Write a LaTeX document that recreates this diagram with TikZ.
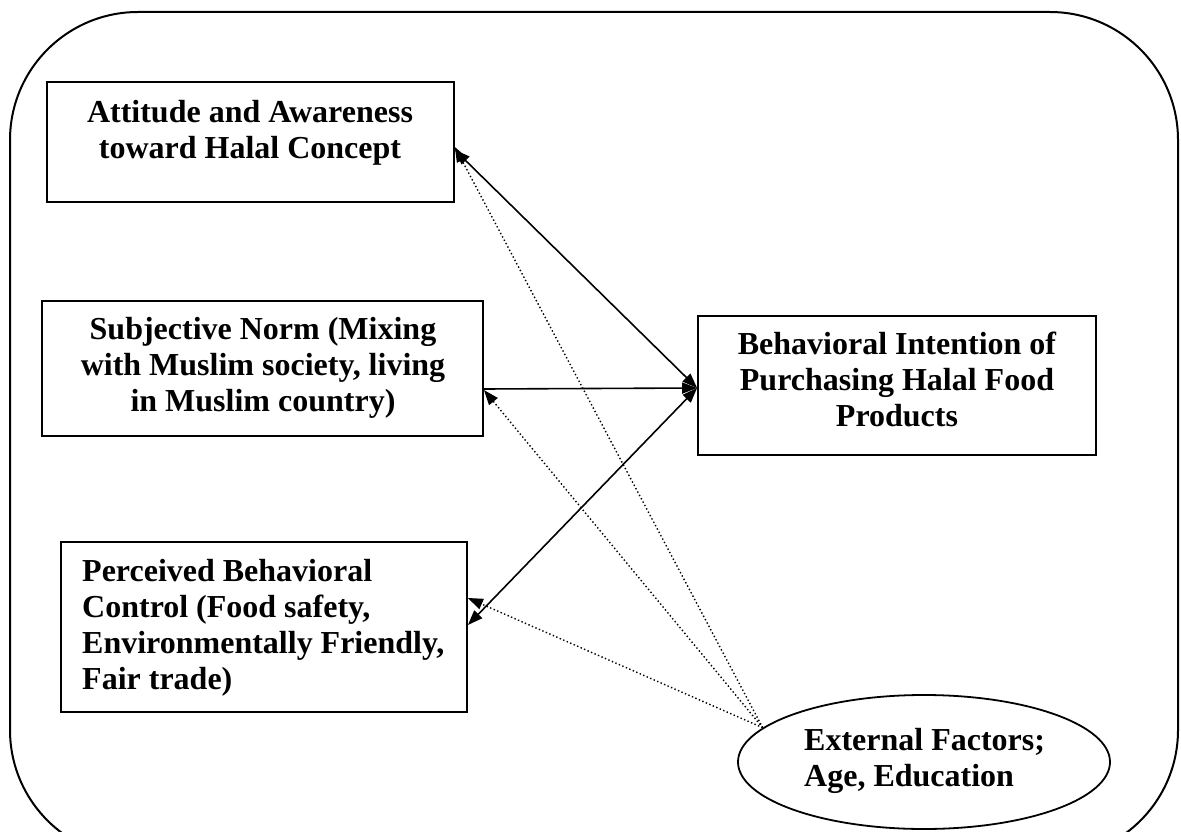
\documentclass[tikz,border=0pt]{standalone}
\usepackage{fontspec}
\setmainfont{Liberation Serif}
\usetikzlibrary{arrows.meta,shapes.geometric}
\begin{document}
\begin{tikzpicture}[x=1pt,y=-1pt,
  box/.style={draw, line width=1.8pt, rectangle, inner sep=0pt},
  lbl/.style={inner sep=0pt, font=\fontsize{32}{36}\selectfont\bfseries},
  head/.tip={Triangle[length=15pt,width=11pt]},
  link/.style={line width=1.6pt},
  hint/.style={line width=1.4pt, dash pattern=on 1.4pt off 2.4pt, -head}
]
\useasboundingbox (0,0) rectangle (1181,832);

% frame around the whole model
\draw[line width=2pt, rounded corners=128pt] (10,12) rectangle (1178,858);

% constructs
\node[box, minimum width=407pt, minimum height=120pt] (att) at (250.5,142) {};
\node[box, minimum width=441pt, minimum height=135pt] (sn)  at (262.5,368.5) {};
\node[box, minimum width=406pt, minimum height=170pt] (pbc) at (264,627) {};
\node[box, minimum width=398pt, minimum height=139pt] (bi)  at (897,385.5) {};
\node[draw, ellipse, line width=1.8pt, minimum width=372pt, minimum height=134pt, inner sep=0pt] (ext) at (924,762) {};

% labels
\node[lbl, align=center] (attT) at (250,133) {Attitude and Awareness\\toward Halal Concept};
\node[lbl, align=center] (snT) at (263,367.5) {Subjective Norm (Mixing\\with Muslim society, living\\in Muslim country)};
\node[lbl, align=left, anchor=west] (pbcT) at (82,628) {Perceived Behavioral\\Control (Food safety,\\Environmentally Friendly,\\Fair trade)};
\node[lbl, align=center] (biT) at (897,379) {Behavioral Intention of\\Purchasing Halal Food\\Products};
\node[lbl, align=left, anchor=west] (extT) at (804,761) {External Factors;\\Age, Education};

% direct effects on intention
\draw[link, head-head] ([yshift=-8pt]att.east) -- ([yshift=-2.5pt]bi.west);
\draw[link, -head] ([yshift=-20.5pt]sn.east) -- ([yshift=-2.5pt]bi.west);
\draw[link, head-head] ([yshift=2pt]pbc.east) -- ([yshift=-2.5pt]bi.west);

% moderating external factors
\draw[hint] (ext.168) -- ([yshift=-5pt]att.east);
\draw[hint] (ext.168) -- ([yshift=-21.5pt]sn.east);
\draw[hint] (ext.168) -- ([yshift=29pt]pbc.east);
\end{tikzpicture}
\end{document}
